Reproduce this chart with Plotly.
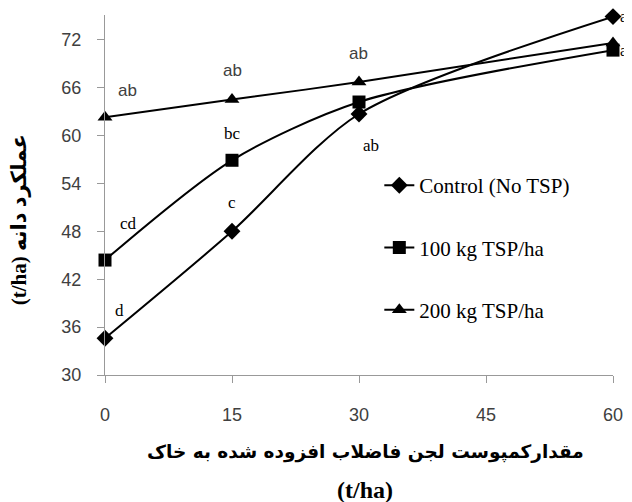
import plotly.graph_objects as go

x_vals = [0, 15, 30, 60]
control = [34.6, 48.0, 62.7, 74.9]
tsp100 = [44.4, 56.9, 64.2, 70.7]
tsp200 = [62.3, 64.5, 66.7, 71.6]

series_names = ["Control (No TSP)", "100 kg TSP/ha", "200 kg TSP/ha"]
series_symbols = ["diamond", "square", "triangle-up"]

y_ticks = [30, 36, 42, 48, 54, 60, 66, 72]
x_ticks = [0, 15, 30, 45, 60]

# letter annotations: (x, y, text, font kind)
letters = [
    (2.7, 65.7, "ab", "sans"),
    (15, 68.2, "ab", "sans"),
    (29.9, 70.3, "ab", "sans"),
    (15, 60.3, "bc", "serif"),
    (15, 51.6, "c", "serif"),
    (2.8, 49.0, "cd", "serif"),
    (1.7, 38.1, "d", "serif"),
    (31.4, 58.8, "ab", "serif"),
]
right_letters = [(60, 74.9, "a"), (60, 70.7, "a")]

x_title = "مقدارکمپوست لجن فاضلاب افزوده شده به خاک"
x_title2 = "(t/ha)"
y_title = "(t/ha) عملکرد دانه"

fig = go.Figure()
for i, (name, sym, ys) in enumerate(zip(series_names, series_symbols, [control, tsp100, tsp200])):
    fig.add_trace(go.Scatter(
        x=x_vals, y=ys, name=name, mode="lines+markers",
        line=dict(color="black", width=2, shape="spline", smoothing=0.8),
        marker=dict(symbol=sym, size=13, color="black"),
        legendgroup=f"g{i}", cliponaxis=False,
    ))

annotations = []
for x, y, t, kind in letters:
    annotations.append(dict(
        x=x, y=y, text=t, showarrow=False, xref="x", yref="y",
        font=dict(family="Liberation Sans" if kind == "sans" else "Liberation Serif",
                  size=17, color="#404040" if kind == "sans" else "black"),
    ))
for x, y, t in right_letters:
    annotations.append(dict(
        x=x, y=y, text=t, showarrow=False, xref="x", yref="y", xanchor="left", xshift=5,
        font=dict(family="Liberation Serif", size=16, color="black"),
    ))
annotations.append(dict(
    x=0.512, y=-0.213, xref="paper", yref="paper", text="<b>" + x_title + "</b>",
    showarrow=False, yanchor="middle",
    font=dict(family="DejaVu Sans", size=18.5, color="black"),
))
annotations.append(dict(
    x=0.512, y=-0.32, xref="paper", yref="paper", text="<b>" + x_title2 + "</b>",
    showarrow=False, yanchor="middle",
    font=dict(family="Liberation Serif", size=24, color="black"),
))
annotations.append(dict(
    x=-0.169, y=0.43, xref="paper", yref="paper", text="<b>" + y_title + "</b>",
    showarrow=False, textangle=-90, xanchor="center", yanchor="middle",
    font=dict(family="Liberation Serif, DejaVu Sans", size=21, color="black"),
))

fig.update_layout(
    width=624, height=494,
    margin=dict(l=97, r=19, t=7, b=127, autoexpand=False),
    paper_bgcolor="white", plot_bgcolor="white",
    showlegend=True,
    legend=dict(
        x=0.54, y=0.583, xanchor="left", yanchor="top",
        font=dict(family="Liberation Serif", size=21, color="black"),
        bgcolor="rgba(0,0,0,0)", tracegroupgap=32, traceorder="grouped",
        itemwidth=30,
    ),
    annotations=annotations,
    xaxis=dict(
        range=[0, 60], tickvals=x_ticks, ticktext=[str(v) for v in x_ticks],
        showline=True, linecolor="#999999", linewidth=1, ticks="outside", ticklen=7,
        tickcolor="#999999", showgrid=False, zeroline=False, automargin=False,
        tickfont=dict(family="Liberation Sans", size=18, color="#404040"),
        ticklabelstandoff=16,
    ),
    yaxis=dict(
        range=[30, 75.1], tickvals=y_ticks, ticktext=[str(v) for v in y_ticks],
        showline=True, linecolor="#999999", linewidth=1, ticks="outside", ticklen=7,
        tickcolor="#999999", showgrid=False, zeroline=False, automargin=False,
        tickfont=dict(family="Liberation Sans", size=18, color="#404040"),
        ticklabelstandoff=12,
    ),
)

fig.write_html("out.html")
